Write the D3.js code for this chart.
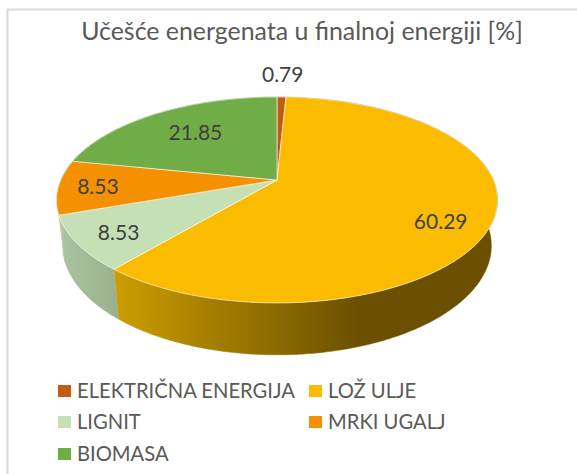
<!DOCTYPE html>
<html>
<head>
<meta charset="utf-8">
<script src="https://cdn.jsdelivr.net/npm/d3@7"></script>
<style>
html,body{margin:0;padding:0;background:#fff;}
svg{display:block;}
text{font-family:Lato,"Open Sans",sans-serif;}
</style>
</head>
<body>
<svg id="c" width="577" height="474"></svg>
<script>
const titleText = "Učešće energenata u finalnoj energiji [%]";
const categories = ["ELEKTRIČNA ENERGIJA","LOŽ ULJE","LIGNIT","MRKI UGALJ","BIOMASA"];
const values = [0.79,60.29,8.53,8.53,21.85];
const valueLabels = ["0.79","60.29","8.53","8.53","21.85"];
const topColors = ["#C55A11","#FBBC00","#C5E0B4","#F59000","#70AD47"];
const sideStops = [
  ["#7a3a0c","#7a3a0c"],
  ["#cb9c00","#6a5000"],
  ["#aac4a0","#9ab08c"],
  ["#ecc79a","#aac4a0"],
  ["#4c7530","#4c7530"]
];

const svg = d3.select("#c");

// frame
svg.append("path").attr("d","M7.5,474V9.5H577").attr("fill","none").attr("stroke","#d9d9d9").attr("stroke-width",2);

// title
svg.append("text").attr("x",302).attr("y",40).attr("text-anchor","middle")
  .attr("font-size",24.9).attr("fill","#595959").text(titleText);

// perspective projection of the pie disc
const cx = 277, cy = 180, a = 216.3, b = 99.1, k = 0.194;
const proj = (ang, r=1) => {
  const u = Math.sin(ang)*r, v = -Math.cos(ang)*r, w = 1-k*v;
  return [cx + a*u/w, cy + b*v/w];
};
const sx = 0.972, sy = 1.06, drop = 355-180-123.1*1.06;
const projLow = ang => {
  const u = Math.sin(ang), v = -Math.cos(ang), w = 1-k*v;
  return [cx + sx*a*u/w, cy + drop + sy*b*v/w];
};

const pie = d3.pie().sort(null).value(d=>d)(values);
const line = d3.line();
const samples = (s,e) => { const n = Math.max(2,Math.ceil((e-s)/0.01)); return d3.range(n+1).map(i=>s+(e-s)*i/n); };

const defs = svg.append("defs");
const sideX = [[270,290],[118,360],[60,118],[58,64],[60,280]];
pie.forEach((p,i)=>{
  const g = defs.append("linearGradient").attr("id","side"+i).attr("gradientUnits","userSpaceOnUse")
    .attr("x1",sideX[i][0]).attr("x2",sideX[i][1]).attr("y1",0).attr("y2",0);
  g.append("stop").attr("offset",0).attr("stop-color",sideStops[i][0]);
  g.append("stop").attr("offset",1).attr("stop-color",sideStops[i][1]);
});

// side walls
svg.append("g").selectAll("path").data(pie).join("path")
  .attr("d",(p)=>{
    const t = samples(p.startAngle,p.endAngle);
    return line(t.map(x=>proj(x)).concat(t.slice().reverse().map(projLow)))+"Z";
  })
  .attr("fill",(p,i)=>`url(#side${i})`)
  .attr("stroke",(p,i)=>`url(#side${i})`).attr("stroke-width",0.5);

// top faces
svg.append("g").selectAll("path").data(pie).join("path")
  .attr("d",p=>{
    const t = samples(p.startAngle,p.endAngle);
    return line([[cx,cy]].concat(t.map(x=>proj(x))))+"Z";
  })
  .attr("fill",(p,i)=>topColors[i])
  .attr("stroke","#fff").attr("stroke-opacity",0.65).attr("stroke-width",0.9);

// value labels
const labelR = [1.34,0.8,0.82,0.82,0.67];
const labelShift = [0,7.6,-1.2,-0.6,1].map(d=>d*Math.PI/180);
svg.append("g").selectAll("text").data(pie).join("text")
  .attr("transform",(p,i)=>{
    const m = (p.startAngle+p.endAngle)/2 + labelShift[i];
    return `translate(${proj(m,labelR[i])})`;
  })
  .attr("text-anchor","middle").attr("dy","0.35em")
  .attr("font-size",21).attr("fill","#404040")
  .text((p,i)=>valueLabels[i]);

// legend
const legendX = [58,309], legendY = [391,422,454];
const lg = svg.append("g").selectAll("g").data(categories).join("g")
  .attr("transform",(d,i)=>`translate(${legendX[i%2]},${legendY[Math.floor(i/2)]})`);
lg.append("rect").attr("y",-6).attr("width",13).attr("height",12).attr("fill",(d,i)=>topColors[i]);
lg.append("text").attr("x",19).attr("dy","0.35em").attr("font-size",20.2).attr("fill","#595959").text(d=>d);
</script>
</body>
</html>
